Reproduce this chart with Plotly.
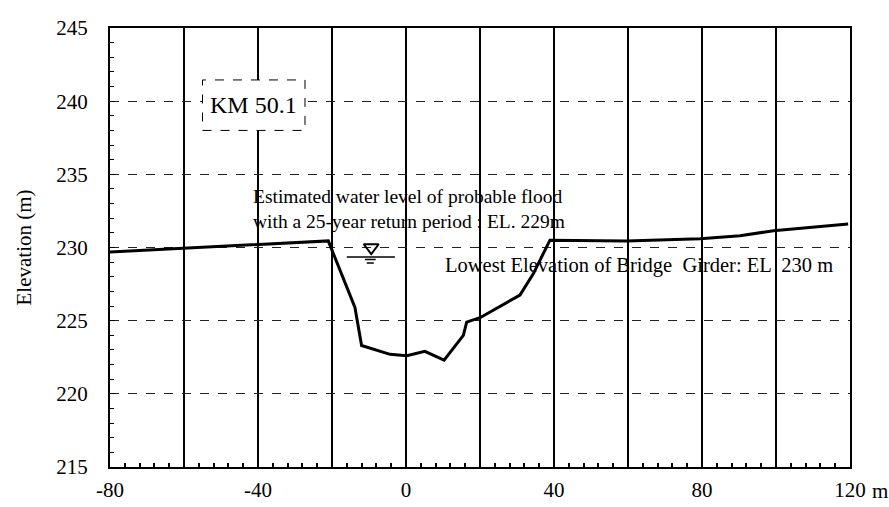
import plotly.graph_objects as go

# Cross-section profile (station in m, elevation in m)
station = [-80, -60, -40, -21, -13.8, -12, -4.3, 0.2, 5.1, 10.3, 15.5, 16.4, 20.0, 30.8, 34.4, 38.9, 59.6, 79.5, 90.3, 99.3, 119.5]
elevation = [229.7, 229.95, 230.25, 230.45, 225.9, 223.3, 222.7, 222.6, 222.9, 222.3, 224.0, 224.9, 225.2, 226.75, 228.2, 230.5, 230.45, 230.6, 230.8, 231.15, 231.6]

x_grid = [-80, -60, -40, -20, 0, 20, 40, 60, 80, 100, 120]
x_labels = ["-80", "", "-40", "", "0", "", "40", "", "80", "", "120"]
y_ticks = [215, 220, 225, 230, 235, 240, 245]

FONT = "Liberation Serif, Times New Roman, serif"

fig = go.Figure()
fig.add_trace(go.Scatter(x=station, y=elevation, mode="lines",
                         line=dict(color="black", width=3), hoverinfo="skip",
                         showlegend=False))

# water level symbol
fig.add_trace(go.Scatter(x=[-9.4], y=[230.0], mode="markers",
                         marker=dict(symbol="triangle-down-open", size=13,
                                     color="black", line=dict(width=2)),
                         showlegend=False, hoverinfo="skip"))

shapes = [
    dict(type="line", x0=-16, x1=-3, y0=229.35, y1=229.35,
         line=dict(color="black", width=1.5)),
    dict(type="line", x0=-11.1, x1=-8.2, y0=229.18, y1=229.18,
         line=dict(color="black", width=1.5)),
    dict(type="line", x0=-10.6, x1=-8.7, y0=228.94, y1=228.94,
         line=dict(color="black", width=1.5)),
    dict(type="rect", x0=-55, x1=-27.3, y0=238.0, y1=241.45,
         fillcolor="white", line=dict(color="black", width=1, dash="dash"),
         layer="above"),
]

annotations = [
    dict(x=-41.1, y=239.72, text="KM 50.1", showarrow=False,
         font=dict(family=FONT, size=24, color="black"),
         xanchor="center", yanchor="middle"),
    dict(x=-42, y=232.66, text="Estimated water level of probable flood<br>with a 25-year return period : EL. 229m",
         showarrow=False, align="left", xanchor="left", yanchor="middle",
         font=dict(family=FONT, size=19.5, color="black")),
    dict(x=10, y=228.8, text="Lowest Elevation of Bridge  Girder: EL  230 m",
         showarrow=False, xanchor="left", yanchor="middle",
         font=dict(family=FONT, size=20.5, color="black")),
    dict(x=0, y=0.5, xref="paper", yref="paper", xshift=-87,
         text="Elevation (m)", textangle=-90, showarrow=False,
         font=dict(family=FONT, size=21, color="black"),
         xanchor="center", yanchor="middle"),
    dict(x=1, y=0, xref="paper", yref="paper", xshift=20, yshift=-24,
         text="m", showarrow=False, xanchor="left", yanchor="middle",
         font=dict(family=FONT, size=21, color="black")),
]

fig.update_layout(
    width=889, height=507,
    margin=dict(l=110, r=39, t=28, b=40, autoexpand=False),
    paper_bgcolor="white", plot_bgcolor="white",
    font=dict(family=FONT, color="black", size=21),
    shapes=shapes, annotations=annotations,
    showlegend=False,
)
fig.update_xaxes(
    range=[-80, 120], tickmode="array", tickvals=x_grid, ticktext=x_labels,
    showgrid=True, gridcolor="black", gridwidth=2,
    showline=True, linecolor="black", linewidth=2, mirror=True,
    ticks="inside", ticklen=5, tickcolor="black", tickwidth=1.5,
    minor=dict(dtick=4, ticks="inside", ticklen=4, tickcolor="black", showgrid=False),
    zeroline=False, tickfont=dict(family=FONT, size=21, color="black"),
    ticklabelstandoff=3, automargin=False,
)
fig.update_yaxes(
    range=[215, 245], tickmode="array", tickvals=y_ticks,
    showgrid=True, gridcolor="#222222", gridwidth=1.2, griddash="dash",
    showline=True, linecolor="black", linewidth=2, mirror=True,
    ticks="inside", ticklen=5, tickcolor="black",
    minor=dict(dtick=1, ticks="inside", ticklen=4, tickcolor="black", showgrid=False),
    zeroline=False, tickfont=dict(family=FONT, size=21, color="black"),
    ticklabelstandoff=16, automargin=False,
)

fig.write_html("out.html")
